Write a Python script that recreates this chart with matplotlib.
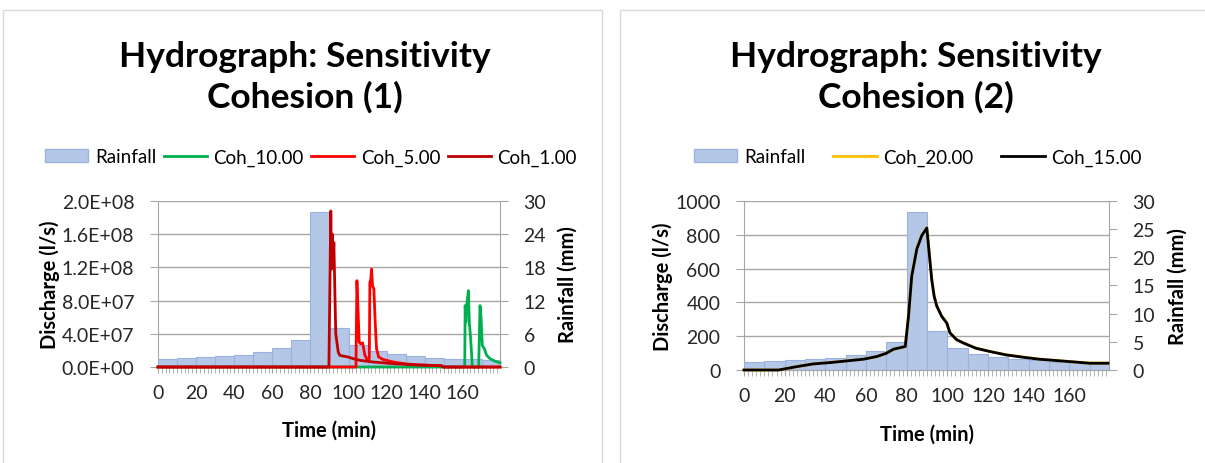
import matplotlib
matplotlib.use("Agg")
import numpy as np
import matplotlib.pyplot as plt
from matplotlib.patches import Patch, Rectangle
from matplotlib.lines import Line2D
from matplotlib.ticker import FuncFormatter

plt.rcParams['font.family'] = ['Lato', 'DejaVu Sans']

# rainfall blocks (10 min each), same storm in both charts
rain_start = [0, 10, 20, 30, 40, 50, 60, 70, 80, 90, 100, 110, 120, 130, 140, 150, 160, 170]
rain_mm = [1.4, 1.6, 1.8, 2.0, 2.2, 2.7, 3.4, 4.9, 28.0, 7.0, 3.9, 2.9, 2.3, 2.0, 1.7, 1.5, 1.4, 1.2]

# chart 1 discharge (l/s)
t_coh10 = [0, 161, 161.2, 161.6, 162, 162.9, 163.4, 164.1, 165, 168.3, 169, 169.5, 170.2, 171.3, 172.5, 174.3, 176.9, 179.5]
q_coh10 = [0, 0, 7.4e7, 5.4e7, 7.4e7, 9.2e7, 5.4e7, 3.4e7, 0, 0, 7.4e7, 6.2e7, 2.6e7, 2.2e7, 1.4e7, 1.0e7, 0.7e7, 0.5e7]

t_coh5 = [0, 103.9, 104.4, 105.1, 105.6, 106.3, 107.4, 108.6, 109.8, 110.9, 111.2, 111.7, 112.1, 112.6, 113.3, 114.0,
          114.7, 115.8, 118.2, 123.5, 130.5, 137.5, 148.9, 149.6, 179.5]
q_coh5 = [0, 0, 1.04e8, 6.2e7, 3.0e7, 2.8e7, 2.9e7, 1.4e7, 0.9e7, 1.0e7, 1.02e8, 1.06e8, 1.18e8, 9.8e7, 9.4e7, 5.4e7,
          2.2e7, 1.2e7, 0.9e7, 0.6e7, 0.36e7, 0.24e7, 0.16e7, 0, 0]

t_coh1 = [0, 89.7, 90.7, 91.1, 91.5, 91.9, 92.3, 92.8, 93.3, 94.6, 95.4, 99.8, 102.5, 106, 113, 123.5, 135.7, 148.9, 149.5, 179.5]
q_coh1 = [0, 0, 1.88e8, 1.18e8, 1.60e8, 1.25e8, 1.50e8, 9.4e7, 4.0e7, 1.8e7, 1.4e7, 1.2e7, 1.0e7, 0.8e7, 0.6e7, 0.4e7,
          0.25e7, 0.15e7, 0, 0]

# chart 2 discharge (l/s)
t_c2 = [0, 17, 26, 34, 42.5, 50.6, 58.8, 65.4, 70, 73.5, 79.3, 80.9, 82.5, 85, 87.4, 89.9, 91.2, 92.3, 93.5, 94.8, 97.2,
        99.7, 101.3, 104.6, 108, 114, 121, 129, 137, 145, 153.6, 162, 170, 179]
q_coh15 = [0, 0, 20, 36, 44, 54, 64, 80, 99, 123, 139, 318, 557, 716, 795, 840, 676, 537, 437, 378, 318,
           278, 219, 179, 159, 129, 109, 89, 76, 64, 56, 48, 40, 40]
q_coh20 = [0, 0, 20, 36, 45, 54, 64, 80, 99, 122, 138, 320, 560, 718, 797, 842, 680, 540, 440, 380, 320,
           280, 220, 180, 160, 130, 110, 90, 77, 65, 56, 48, 41, 41]

W, H = 1205, 464
GRID = '#a6a6a6'
TXT = '#262626'
RAIN_FC = '#B4C7E7'
RAIN_EC = '#9AB3DE'
LW = 2.0

fig = plt.figure(figsize=(W / 100, H / 100), dpi=100)

# panel frames
for x0, x1 in [(3, 602), (620, 1215)]:
    fig.patches.append(Rectangle((x0 / W, -0.02), (x1 - x0) / W, 1.02 - 10.5 / H,
                                 transform=fig.transFigure, fill=False, ec='#d9d9d9', lw=1))


def make_axes(x0, x1, y0, y1):
    rect = [x0 / W, 1 - y1 / H, (x1 - x0) / W, (y1 - y0) / H]
    ax = fig.add_axes(rect)
    axr = ax.twinx()
    axl = fig.add_axes(rect, sharex=ax, sharey=ax)
    axl.axis('off')
    axl.patch.set_visible(False)
    ax.set_zorder(0)
    axr.set_zorder(1)
    axl.set_zorder(2)
    return ax, axr, axl


def style(ax, axr, rmax, rstep):
    for s in ['top', 'right']:
        ax.spines[s].set_visible(False)
    for s in ['top', 'left']:
        axr.spines[s].set_visible(False)
    for s in ['bottom', 'right']:
        axr.spines[s].set_color(GRID)
    ax.spines['left'].set_color(GRID)
    ax.spines['bottom'].set_color(GRID)
    ax.yaxis.grid(True, color=GRID, lw=1)
    ax.set_axisbelow(True)
    ax.set_xlim(0, 179.5)
    ax.set_xticks(range(0, 161, 20))
    ax.set_xticks(range(0, 180, 2), minor=True)
    ax.tick_params(axis='x', which='both', direction='out', length=4, color=GRID,
                   labelsize=14, labelcolor=TXT, pad=8)
    ax.tick_params(axis='y', direction='out', length=6, color=GRID, labelsize=14, labelcolor=TXT, pad=11)
    axr.set_ylim(0, rmax)
    axr.set_yticks(np.arange(0, rmax + 0.1, rstep))
    axr.tick_params(axis='y', direction='out', length=6, color=GRID, labelsize=14, labelcolor=TXT, pad=11)
    axr.bar(rain_start, rain_mm, width=10, align='edge', color=RAIN_FC, edgecolor=RAIN_EC, lw=0.8)
    ax.set_xlabel('Time (min)', fontsize=14.5, fontweight='bold', color='black')
    ax.set_ylabel('Discharge (l/s)', fontsize=14.5, fontweight='bold', color='black')
    axr.set_ylabel('Rainfall (mm)', fontsize=14.5, fontweight='bold', color='black')


# ---------- chart 1 ----------
ax1, ax1r, ax1l = make_axes(158, 500, 202, 368)
style(ax1, ax1r, 30, 6)
ax1.set_ylim(0, 2e8)
ax1.set_yticks(np.arange(0, 2.01e8, 4e7))
ax1.yaxis.set_major_formatter(FuncFormatter(lambda v, p: f'{v:.1E}'))
ax1l.plot(t_coh10, q_coh10, color='#00B050', lw=LW, clip_on=False)
ax1l.plot(t_coh5, q_coh5, color='#FF0000', lw=LW, clip_on=False)
ax1l.plot(t_coh1, q_coh1, color='#C00000', lw=LW, clip_on=False)
ax1.yaxis.set_label_coords(-0.287, 0.5)
ax1r.yaxis.set_label_coords(1.17, 0.5)
ax1.xaxis.set_label_coords(0.5, -0.32)

fig.text(305 / W, 1 - 77 / H, 'Hydrograph: Sensitivity\nCohesion (1)', ha='center', va='center',
         fontsize=25.5, fontweight='bold', linespacing=1.3)
h1 = [Patch(facecolor=RAIN_FC, edgecolor=RAIN_EC),
      Line2D([], [], color='#00B050', lw=LW),
      Line2D([], [], color='#FF0000', lw=LW),
      Line2D([], [], color='#C00000', lw=LW)]
fig.legend(h1, ['Rainfall', 'Coh_10.00', 'Coh_5.00', 'Coh_1.00'], loc='center',
           bbox_to_anchor=(311 / W, 1 - 158 / H), ncol=4, frameon=False, fontsize=13.5,
           handlelength=2.3, handletextpad=0.35, columnspacing=0.4, handleheight=0.7)

# ---------- chart 2 ----------
ax2, ax2r, ax2l = make_axes(744, 1109, 202, 371)
style(ax2, ax2r, 30, 5)
ax2.set_ylim(0, 1000)
ax2.set_yticks(np.arange(0, 1001, 200))
ax2l.plot(t_c2, q_coh20, color='#FFC000', lw=LW, clip_on=False)
ax2l.plot(t_c2, q_coh15, color='black', lw=LW, clip_on=False)
ax2.yaxis.set_label_coords(-0.195, 0.5)
ax2r.yaxis.set_label_coords(1.16, 0.5)
ax2.xaxis.set_label_coords(0.5, -0.315)

fig.text(916 / W, 1 - 77 / H, 'Hydrograph: Sensitivity\nCohesion (2)', ha='center', va='center',
         fontsize=25.5, fontweight='bold', linespacing=1.3)
h2 = [Patch(facecolor=RAIN_FC, edgecolor=RAIN_EC),
      Line2D([], [], color='#FFC000', lw=LW),
      Line2D([], [], color='black', lw=LW)]
fig.legend(h2, ['Rainfall', 'Coh_20.00', 'Coh_15.00'], loc='center',
           bbox_to_anchor=(918 / W, 1 - 158 / H), ncol=3, frameon=False, fontsize=13.5,
           handlelength=2.3, handletextpad=0.35, columnspacing=1.5, handleheight=0.7)

fig.savefig('out.png', dpi=100)
